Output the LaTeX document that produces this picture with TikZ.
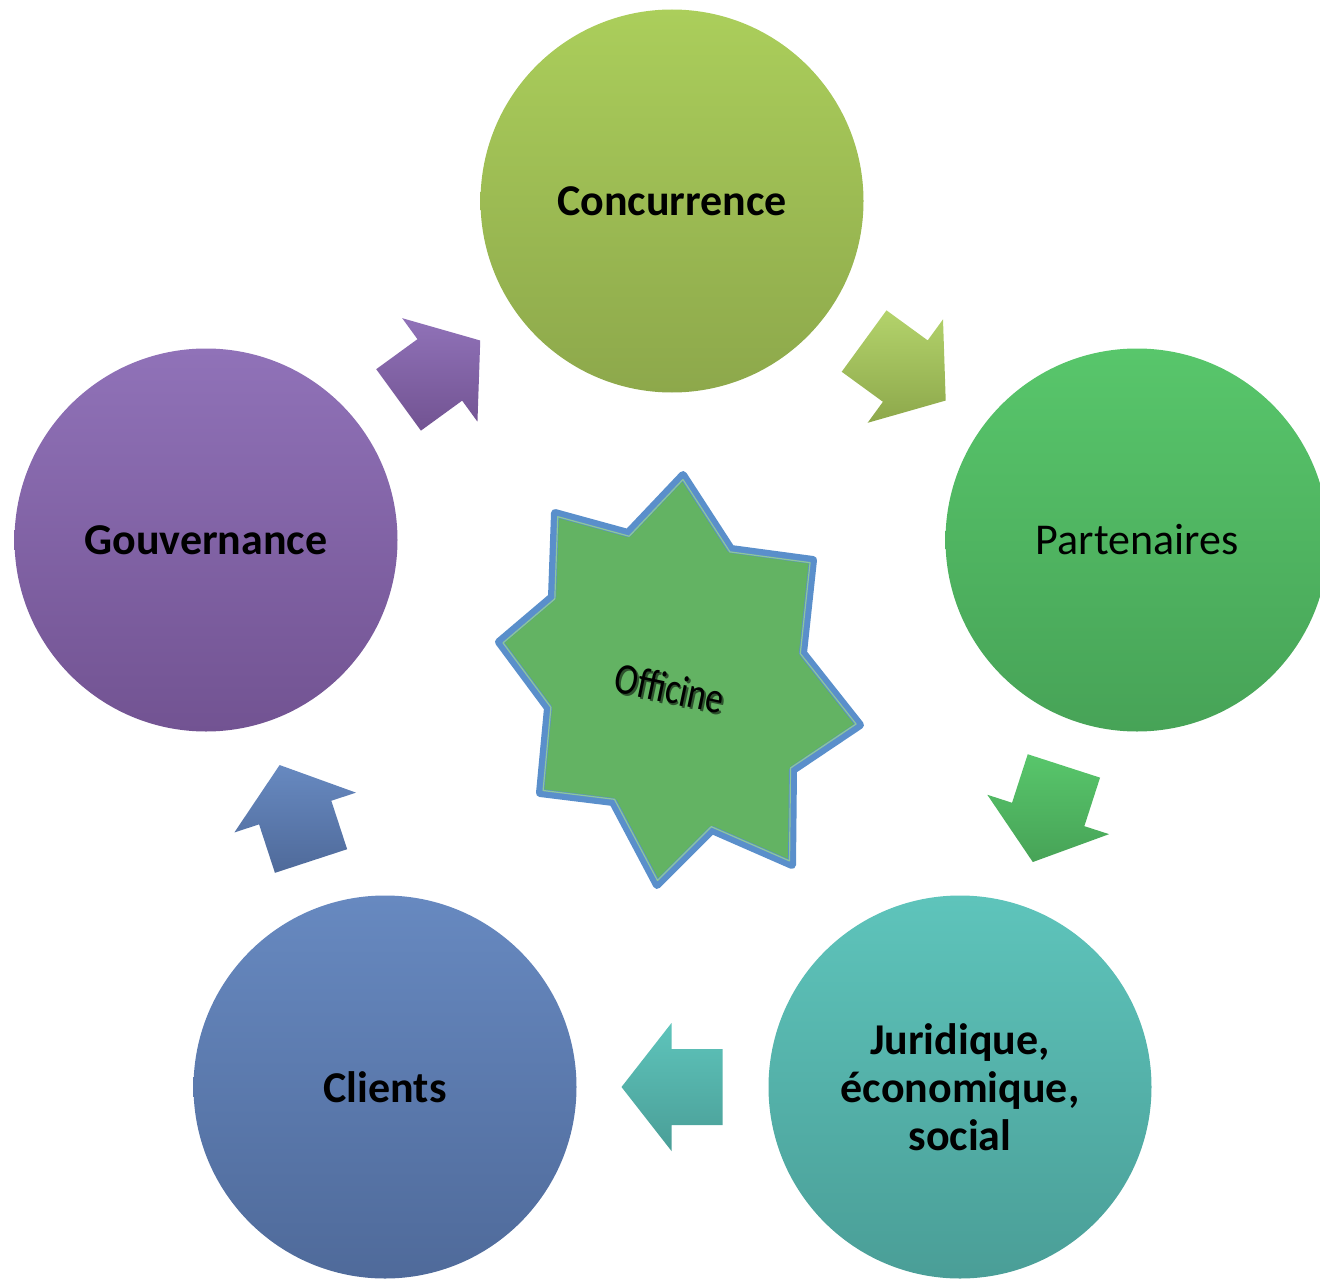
\documentclass[tikz,border=0pt]{standalone}
\usepackage{fontspec}
\setmainfont{Carlito}
\usetikzlibrary{calc}
\definecolor{concT}{HTML}{ABCE5B}
\definecolor{concB}{HTML}{8DA84B}
\definecolor{partT}{HTML}{58C66B}
\definecolor{partB}{HTML}{47A357}
\definecolor{juriT}{HTML}{5EC4BB}
\definecolor{juriB}{HTML}{4A9E97}
\definecolor{cliT}{HTML}{6789C0}
\definecolor{cliB}{HTML}{4F6A9A}
\definecolor{gouvT}{HTML}{9072B8}
\definecolor{gouvB}{HTML}{725392}
\definecolor{starfill}{HTML}{63B363}
\definecolor{starline}{HTML}{5A8FCB}
\definecolor{starlight}{HTML}{8DC79A}
\tikzset{
  bubble/.style={circle, minimum size=383pt, inner sep=0pt, align=center,
    font=\fontsize{44}{48}\selectfont\bfseries, text=black},
  starshape/.style={fill=starfill, draw=starline, line width=8pt, line join=round},
  starinner/.style={draw=starlight, line width=1.2pt, line join=round},
  offtext/.style={rotate=-12, xscale=0.8, font=\fontsize{44}{48}\selectfont},
}
\newcommand\flowarrow[4]{%
  \path[top color=#3, bottom color=#4]
    let \p1=($(#2)-(#1)$), \n1={atan2(\y1,\x1)}, \p2=($(#1)!0.5!(#2)$) in
    ($(\p2)+(\n1:-50pt)+(\n1+90:38pt)$) --
    ($(\p2)+(\n1:1pt)+(\n1+90:38pt)$) --
    ($(\p2)+(\n1:1pt)+(\n1+90:64pt)$) --
    ($(\p2)+(\n1:51pt)$) --
    ($(\p2)+(\n1:1pt)+(\n1+90:-64pt)$) --
    ($(\p2)+(\n1:1pt)+(\n1+90:-38pt)$) --
    ($(\p2)+(\n1:-50pt)+(\n1+90:-38pt)$) -- cycle;}
\newcommand\starpath{(683,-475) -- (731,-549) -- (813,-560) -- (803,-653) -- (860,-725) -- (793,-770)
  -- (792,-865) -- (712,-830) -- (657,-885) -- (613,-802) -- (540,-793) -- (548,-708)
  -- (499,-642) -- (552,-597) -- (555,-513) -- (628,-533) -- cycle}
\begin{document}
\begin{tikzpicture}[x=1pt,y=1pt]
\useasboundingbox (0,0) rectangle (1320,-1279);
\clip (0,0) rectangle (1320,-1279);
% circles
\node[bubble, top color=concT, bottom color=concB] (conc) at (672,-201) {Concurrence};
\node[bubble, top color=partT, bottom color=partB, font=\fontsize{44}{48}\selectfont\mdseries] (part) at (1137,-540) {Partenaires};
\node[bubble, top color=juriT, bottom color=juriB] (juri) at (960,-1087) {Juridique,\\économique,\\social};
\node[bubble, top color=cliT, bottom color=cliB] (cli) at (385,-1087) {Clients};
\node[bubble, top color=gouvT, bottom color=gouvB] (gouv) at (206,-540) {Gouvernance};
% block arrows
\flowarrow{gouv}{conc}{gouvT}{gouvB}
\flowarrow{conc}{part}{concT!90!white}{concB}
\flowarrow{part}{juri}{partT}{partB}
\flowarrow{juri}{cli}{juriT}{juriB}
\flowarrow{cli}{gouv}{cliT}{cliB}
% star
\draw[starshape] \starpath;
\draw[starinner, scale around={0.978:(680,-680)}] \starpath;
\node[offtext, text=starfill!45!black] at (671.5,-690) {Officine};
\node[offtext, text=black] (off) at (670,-688) {Officine};
\end{tikzpicture}
\end{document}
